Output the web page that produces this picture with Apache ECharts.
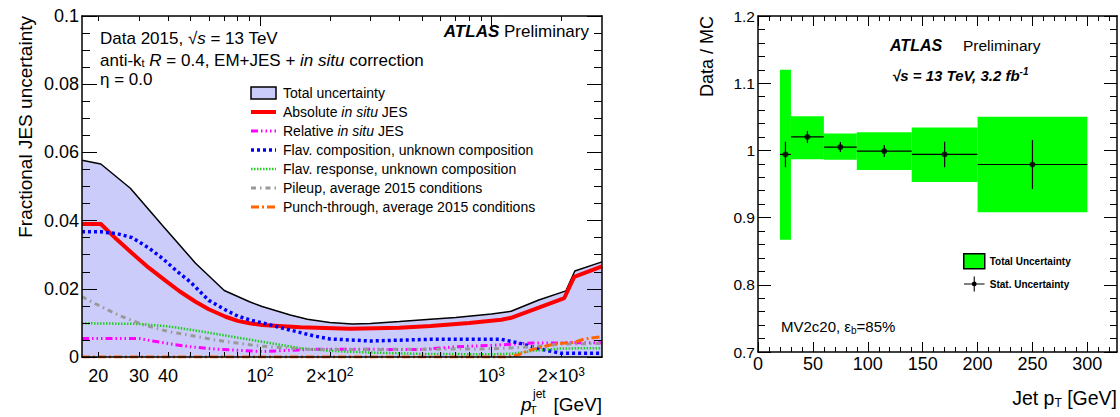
<!DOCTYPE html>
<html>
<head>
<meta charset="utf-8">
<title>JES uncertainty and b-tagging Data/MC</title>
<script src="https://cdn.jsdelivr.net/npm/echarts@6.0.0/dist/echarts.min.js"></script>
<style>
html,body{margin:0;padding:0;background:#ffffff;}
#chart{width:1120px;height:417px;}
</style>
</head>
<body>
<div id="chart"></div>
<script>
// ---------------- Left panel: fractional JES uncertainty vs pT [GeV] ----------------
const totalUncertainty = [[17,0.0577],[20.5,0.0566],[27.5,0.0495],[37.7,0.0387],[52.6,0.0275],[70,0.0195],[90,0.0162],[102,0.0148],[135,0.0123],[160,0.0111],[200,0.0101],[250,0.0097],[300,0.0098],[400,0.0104],[545,0.0111],[700,0.0116],[1000,0.0126],[1214,0.0134],[1600,0.0167],[2096,0.0194],[2289,0.0252],[3000,0.0279]];
const absoluteInSitu = [[17,0.0390],[20.5,0.0390],[24,0.0345],[28,0.0304],[33,0.0262],[39,0.0224],[45,0.0192],[52.6,0.0162],[60,0.0140],[71,0.0118],[80,0.0106],[90,0.0099],[102,0.0094],[149,0.0087],[245,0.0083],[400,0.0086],[545,0.0091],[800,0.0100],[1100,0.0109],[1214,0.0115],[1600,0.0145],[2062,0.0173],[2275,0.0235],[3000,0.0266]];
const relativeInSitu = [[17,0.0054],[30,0.0054],[35,0.0046],[42,0.0037],[50,0.0030],[64,0.0023],[102,0.0016],[127,0.0019],[176,0.0023],[500,0.0022],[700,0.0030],[1000,0.0034],[1500,0.0041],[3000,0.0042]];
const flavComposition = [[17,0.0367],[20.5,0.0367],[24,0.0362],[28,0.0350],[33,0.0320],[37.7,0.0290],[44,0.0250],[50,0.0220],[60,0.0166],[71,0.0138],[80,0.0120],[90,0.0109],[102,0.0100],[135,0.0079],[170,0.0062],[200,0.0053],[300,0.0047],[545,0.0052],[1100,0.0052],[1330,0.0040],[1625,0.0023],[2000,0.0011],[3000,0.0011]];
const flavResponse = [[17,0.0099],[30,0.0097],[40,0.0090],[50,0.0080],[71,0.0063],[102,0.0045],[149,0.0026],[200,0.0018],[300,0.0013],[500,0.0009],[1000,0.0008],[1250,0.0010],[1500,0.0018],[2000,0.0025],[3000,0.0026]];
const pileup = [[17,0.0177],[19.3,0.0157],[22,0.0138],[25,0.0120],[31.4,0.0094],[40,0.0075],[48.5,0.0065],[64,0.0050],[88,0.0037],[100,0.0032],[160,0.0022],[300,0.0022],[1000,0.0024],[1500,0.0030],[2000,0.0038],[3000,0.0040]];
const punchThrough = [[17,0],[1150,0],[1300,0.0006],[1480,0.0021],[1860,0.0038],[2270,0.0043],[2500,0.0052],[3000,0.0060]];

const leftXMin = 17, leftXMax = 3000;
const leftXLabelValues = [20, 30, 40, 100, 200, 1000, 2000];
const leftXMajorTicks = [100, 1000];
const leftXMinorTicks = [20, 30, 40, 50, 60, 70, 80, 90, 200, 300, 400, 500, 600, 700, 800, 900, 2000];

// ---------------- Right panel: Data / MC vs jet pT [GeV] ----------------
const binLow = [20, 30, 60, 90, 140, 200];
const binHigh = [30, 60, 90, 140, 200, 300];
const binCenter = [25, 45, 75, 115, 170, 250];
const ratio = [0.994, 1.020, 1.005, 0.999, 0.994, 0.979];
const statErr = [0.019, 0.009, 0.0075, 0.009, 0.019, 0.0365];
const totalLow = [0.867, 0.987, 0.986, 0.971, 0.953, 0.908];
const totalHigh = [1.120, 1.051, 1.025, 1.027, 1.034, 1.050];

const rightXMajorTicks = [0, 50, 100, 150, 200, 250, 300];
const rightXMinorTicks = [10, 20, 30, 40, 60, 70, 80, 90, 110, 120, 130, 140, 160, 170, 180, 190, 210, 220, 230, 240, 260, 270, 280, 290, 310, 320];

// ---------------- styling helpers ----------------
const FONT = 'Liberation Sans, Arial, Helvetica, sans-serif';
const BLACK = '#000000';
const AXIS_Z = 10;
const frameLine = {show: true, onZero: false, lineStyle: {color: BLACK, width: 1.5}};
const noLine = {show: false, onZero: false};

function logLabel(v) {
  if (v < 100) return '{b|' + v + '}';
  const e = Math.round(Math.log10(v));
  const m = Math.round(v / Math.pow(10, e));
  return (m === 1 ? '' : '{b|' + m + '×}') + '{b|10}{s|' + e + '}';
}

// tick-only axes of the log panel, laid out in decades (log10 of pT)
function logTickAxis(pos, ticks, len, opts) {
  return Object.assign({
    type: 'value', gridIndex: 0, min: Math.log10(leftXMin), max: Math.log10(leftXMax), position: pos, z: AXIS_Z,
    axisLine: noLine,
    axisTick: {show: true, inside: true, length: len, customValues: ticks.map(t => Math.log10(t)), lineStyle: {color: BLACK, width: 1}},
    axisLabel: {show: false},
    splitLine: {show: false}, minorTick: {show: false}
  }, opts || {});
}
function linX(pos, ticks, len, opts) {
  return Object.assign({
    type: 'value', gridIndex: 1, min: 0, max: 327, position: pos, z: AXIS_Z,
    axisLine: noLine,
    axisTick: {show: true, inside: true, length: len, customValues: ticks, lineStyle: {color: BLACK, width: 1}},
    axisLabel: {show: false},
    splitLine: {show: false}, minorTick: {show: false}
  }, opts || {});
}
function valY(grid, pos, min, max, interval, majLen, minSplit, minLen, labelOpts) {
  return {
    type: 'value', gridIndex: grid, min: min, max: max, interval: interval, position: pos, z: AXIS_Z,
    axisLine: frameLine,
    axisTick: {show: true, inside: true, length: majLen, lineStyle: {color: BLACK, width: 1}},
    minorTick: {show: true, splitNumber: minSplit, length: minLen, lineStyle: {color: BLACK, width: 1}},
    axisLabel: labelOpts || {show: false},
    splitLine: {show: false}, minorSplitLine: {show: false}
  };
}

const richBase = {
  n: {fontFamily: FONT, fontSize: 17, color: BLACK},
  i: {fontFamily: FONT, fontSize: 17, color: BLACK, fontStyle: 'italic'},
  sub: {fontFamily: FONT, fontSize: 11, color: BLACK, verticalAlign: 'bottom', lineHeight: 11},
  bi: {fontFamily: FONT, fontSize: 17, color: BLACK, fontStyle: 'italic', fontWeight: 'bold'}
};

const chart = echarts.init(document.getElementById('chart'), null, {renderer: 'svg', width: 1120, height: 417});

const option = {
  animation: false,
  backgroundColor: '#ffffff',
  textStyle: {fontFamily: FONT},
  grid: [
    {left: 82, top: 16, width: 520, height: 341, outerBoundsMode: 'none', containLabel: false},
    {left: 758, top: 16, width: 359, height: 336, outerBoundsMode: 'none', containLabel: false}
  ],
  xAxis: [
    {
      type: 'log', logBase: 10, gridIndex: 0, min: leftXMin, max: leftXMax, position: 'bottom', z: AXIS_Z,
      axisLine: frameLine, axisTick: {show: false}, splitLine: {show: false}, minorTick: {show: false},
      axisLabel: {
        show: true, customValues: leftXLabelValues, margin: 9, formatter: logLabel, color: BLACK,
        rich: {
          b: {fontFamily: FONT, fontSize: 18, color: BLACK, lineHeight: 20},
          s: {fontFamily: FONT, fontSize: 12, color: BLACK, verticalAlign: 'top', lineHeight: 12}
        }
      }
    },
    logTickAxis('bottom', leftXMajorTicks, 10),
    logTickAxis('bottom', leftXMinorTicks, 5),
    logTickAxis('top', leftXMajorTicks, 10, {axisLine: frameLine}),
    logTickAxis('top', leftXMinorTicks, 5),
    linX('bottom', rightXMajorTicks, 10, {
      axisLine: frameLine,
      axisLabel: {show: true, customValues: rightXMajorTicks, margin: 3, fontSize: 18, fontFamily: FONT, color: BLACK}
    }),
    linX('bottom', rightXMinorTicks, 5),
    linX('top', rightXMajorTicks, 10, {axisLine: frameLine}),
    linX('top', rightXMinorTicks, 5)
  ],
  yAxis: [
    valY(0, 'left', 0, 0.1, 0.02, 15, 4, 8, {show: true, margin: 3, fontSize: 18, fontFamily: FONT, color: BLACK}),
    valY(0, 'right', 0, 0.1, 0.02, 15, 4, 8),
    valY(1, 'left', 0.7, 1.2, 0.1, 13, 5, 7, {show: true, margin: 3, fontSize: 15.5, fontFamily: FONT, color: BLACK}),
    valY(1, 'right', 0.7, 1.2, 0.1, 13, 5, 7)
  ],
  legend: [
    {
      orient: 'vertical', left: 249, top: 86, itemWidth: 25, itemHeight: 12, itemGap: 5,
      selectedMode: false, padding: 0,
      textStyle: {fontFamily: FONT, fontSize: 14, color: BLACK, lineHeight: 12, padding: [0, 0, 0, 2],
        rich: {n: {fontFamily: FONT, fontSize: 14, color: BLACK, lineHeight: 12},
               i: {fontFamily: FONT, fontSize: 14, color: BLACK, lineHeight: 12, fontStyle: 'italic'}}},
      lineStyle: {width: 'inherit'},
      formatter: function (name) {
        if (name === 'Absolute in situ JES') return '{n|Absolute }{i|in situ}{n| JES}';
        if (name === 'Relative in situ JES') return '{n|Relative }{i|in situ}{n| JES}';
        return '{n|' + name + '}';
      },
      data: [
        {name: 'Total uncertainty', icon: 'rect', itemStyle: {color: '#ccccfa', borderColor: BLACK, borderWidth: 1.5}},
        {name: 'Absolute in situ JES', itemStyle: {opacity: 0}},
        {name: 'Relative in situ JES', itemStyle: {opacity: 0}},
        {name: 'Flav. composition, unknown composition', itemStyle: {opacity: 0}},
        {name: 'Flav. response, unknown composition', itemStyle: {opacity: 0}},
        {name: 'Pileup, average 2015 conditions', itemStyle: {opacity: 0}},
        {name: 'Punch-through, average 2015 conditions', itemStyle: {opacity: 0}}
      ]
    },
    {
      orient: 'vertical', left: 963, top: 253, itemWidth: 21, itemHeight: 15, itemGap: 7,
      selectedMode: false, padding: 0,
      textStyle: {fontFamily: FONT, fontSize: 10, fontWeight: 'bold', color: BLACK},
      data: [
        {name: 'Total Uncertainty', icon: 'rect', itemStyle: {color: '#00ff00', borderColor: BLACK, borderWidth: 1.5}},
        {name: 'Stat. Uncertainty', icon: 'path://M0,7.4L22,7.4L22,8.6L0,8.6Z M10.4,0L11.6,0L11.6,16L10.4,16Z M13.6,8A2.6,2.6,0,1,1,8.4,8A2.6,2.6,0,1,1,13.6,8Z', itemStyle: {color: BLACK}}
      ]
    }
  ],
  series: [
    {name: 'Total uncertainty', type: 'line', xAxisIndex: 0, yAxisIndex: 0, data: totalUncertainty,
     symbol: 'none', lineStyle: {color: BLACK, width: 1.5}, itemStyle: {color: BLACK},
     areaStyle: {color: '#ccccfa', opacity: 1}, z: 1},
    {name: 'Absolute in situ JES', type: 'line', xAxisIndex: 0, yAxisIndex: 0, data: absoluteInSitu,
     symbol: 'none', lineStyle: {color: '#ff0000', width: 4}, itemStyle: {color: '#ff0000'}, z: 3},
    {name: 'Relative in situ JES', type: 'line', xAxisIndex: 0, yAxisIndex: 0, data: relativeInSitu,
     symbol: 'none', lineStyle: {color: '#ff00ff', width: 3, type: [7, 3, 1.5, 3, 1.5, 3, 1.5, 3]}, itemStyle: {color: '#ff00ff'}, z: 3},
    {name: 'Flav. composition, unknown composition', type: 'line', xAxisIndex: 0, yAxisIndex: 0, data: flavComposition,
     symbol: 'none', lineStyle: {color: '#0000ff', width: 3.5, type: [3, 3]}, itemStyle: {color: '#0000ff'}, z: 3},
    {name: 'Flav. response, unknown composition', type: 'line', xAxisIndex: 0, yAxisIndex: 0, data: flavResponse,
     symbol: 'none', lineStyle: {color: '#22cc22', width: 2.5, type: [1.5, 1.5]}, itemStyle: {color: '#22cc22'}, z: 3},
    {name: 'Pileup, average 2015 conditions', type: 'line', xAxisIndex: 0, yAxisIndex: 0, data: pileup,
     symbol: 'none', lineStyle: {color: '#999999', width: 3, type: [5, 4, 1.5, 4]}, itemStyle: {color: '#999999'}, z: 3},
    {name: 'Punch-through, average 2015 conditions', type: 'line', xAxisIndex: 0, yAxisIndex: 0, data: punchThrough,
     symbol: 'none', lineStyle: {color: '#ff6600', width: 3, type: [8, 3, 2, 3]}, itemStyle: {color: '#ff6600'}, z: 3},

    {name: 'Total Uncertainty', type: 'custom', xAxisIndex: 5, yAxisIndex: 2,
     data: binLow.map((lo, i) => [lo, binHigh[i], totalLow[i], totalHigh[i]]),
     encode: {x: [0, 1], y: [2, 3]}, itemStyle: {color: '#00ff00'}, z: 2,
     renderItem: function (params, api) {
       const a = api.coord([api.value(0), api.value(3)]);
       const b = api.coord([api.value(1), api.value(2)]);
       return {type: 'rect', shape: {x: a[0], y: a[1], width: b[0] - a[0], height: b[1] - a[1]}, style: {fill: '#00ff00'}};
     }},
    {name: 'Stat. Uncertainty', type: 'custom', xAxisIndex: 5, yAxisIndex: 2,
     data: binLow.map((lo, i) => [lo, binHigh[i], binCenter[i], ratio[i], statErr[i]]),
     encode: {x: [0, 1, 2], y: [3]}, itemStyle: {color: BLACK}, z: 4,
     renderItem: function (params, api) {
       const lo = api.value(0), hi = api.value(1), c = api.value(2), r = api.value(3), e = api.value(4);
       const h0 = api.coord([lo, r]), h1 = api.coord([hi, r]);
       const v0 = api.coord([c, r - e]), v1 = api.coord([c, r + e]);
       return {type: 'group', children: [
         {type: 'line', shape: {x1: h0[0], y1: h0[1], x2: h1[0], y2: h1[1]}, style: {stroke: BLACK, lineWidth: 1.2}},
         {type: 'line', shape: {x1: v0[0], y1: v0[1], x2: v1[0], y2: v1[1]}, style: {stroke: BLACK, lineWidth: 1.2}}
       ]};
     }},
    {name: 'Data points', type: 'scatter', xAxisIndex: 5, yAxisIndex: 2,
     data: binCenter.map((c, i) => [c, ratio[i]]), symbol: 'circle', symbolSize: 6,
     itemStyle: {color: BLACK}, z: 5}
  ],
  graphic: [
    // left panel annotations
    {type: 'text', x: 100, y: 38, style: {text: '{n|Data 2015, √}{i|s}{n| = 13 TeV}', rich: richBase, verticalAlign: 'middle'}},
    {type: 'text', x: 100, y: 60, style: {text: '{n|anti-k}{sub|t}{i| R}{n| = 0.4, EM+JES + }{i|in situ}{n| correction}', rich: richBase, verticalAlign: 'middle'}},
    {type: 'text', x: 100, y: 79, style: {text: '{n|η = 0.0}', rich: richBase, verticalAlign: 'middle'}},
    {type: 'text', x: 589, y: 31, style: {text: '{bi|ATLAS}{n| Preliminary}', rich: richBase, align: 'right', verticalAlign: 'middle'}},
    // left axis titles
    {type: 'text', x: 25, y: 16, rotation: Math.PI / 2, style: {text: 'Fractional JES uncertainty', fontFamily: FONT, fontSize: 19, fill: BLACK, align: 'right', verticalAlign: 'middle'}},
    {type: 'text', x: 602, y: 404, style: {text: '[GeV]', fontFamily: FONT, fontSize: 19, fill: BLACK, align: 'right', verticalAlign: 'middle'}},
    {type: 'text', x: 521, y: 404, style: {text: 'p', fontFamily: FONT, fontSize: 19, fontStyle: 'italic', fill: BLACK, align: 'left', verticalAlign: 'middle'}},
    {type: 'text', x: 533, y: 394, style: {text: 'jet', fontFamily: FONT, fontSize: 12, fill: BLACK, align: 'left', verticalAlign: 'middle'}},
    {type: 'text', x: 530, y: 410, style: {text: 'T', fontFamily: FONT, fontSize: 11, fill: BLACK, align: 'left', verticalAlign: 'middle'}},
    // right panel annotations
    {type: 'text', x: 890, y: 45, style: {text: 'ATLAS', fontFamily: FONT, fontSize: 16, fontStyle: 'italic', fontWeight: 'bold', fill: BLACK, verticalAlign: 'middle'}},
    {type: 'text', x: 963, y: 45, style: {text: 'Preliminary', fontFamily: FONT, fontSize: 15.5, fill: BLACK, verticalAlign: 'middle'}},
    {type: 'text', x: 892, y: 75, style: {text: '{a|√s = 13 TeV, 3.2 fb}{b|-1}', verticalAlign: 'middle',
      rich: {a: {fontFamily: FONT, fontSize: 15, fontStyle: 'italic', fontWeight: 'bold', color: BLACK, lineHeight: 18},
             b: {fontFamily: FONT, fontSize: 10, fontStyle: 'italic', fontWeight: 'bold', color: BLACK, verticalAlign: 'top', lineHeight: 10}}}},
    {type: 'text', x: 781, y: 326, style: {text: '{a|MV2c20, ε}{b|b}{a|=85%}', verticalAlign: 'middle',
      rich: {a: {fontFamily: FONT, fontSize: 15, color: BLACK, lineHeight: 18},
             b: {fontFamily: FONT, fontSize: 10, color: BLACK, verticalAlign: 'bottom', lineHeight: 10}}}},
    // right axis titles
    {type: 'text', x: 707, y: 16, rotation: Math.PI / 2, style: {text: 'Data / MC', fontFamily: FONT, fontSize: 18, fill: BLACK, align: 'right', verticalAlign: 'middle'}},
    {type: 'text', x: 1117, y: 398, style: {text: '{a|Jet p}{b|T}{a| [GeV]}', align: 'right', verticalAlign: 'middle',
      rich: {a: {fontFamily: FONT, fontSize: 19.5, color: BLACK, lineHeight: 22},
             b: {fontFamily: FONT, fontSize: 12, color: BLACK, verticalAlign: 'bottom', lineHeight: 12}}}}
  ]
};
chart.setOption(option);
</script>
</body>
</html>
